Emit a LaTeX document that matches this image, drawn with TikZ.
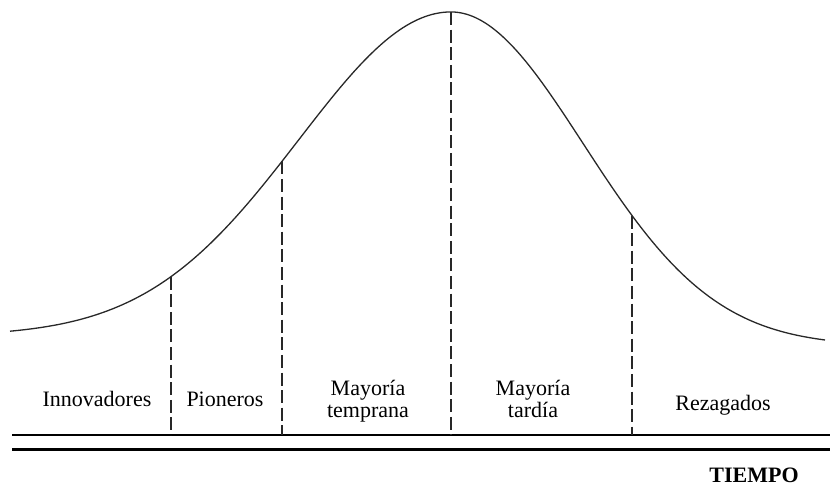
\documentclass[tikz,border=0pt]{standalone}
\usepackage{fontspec}
\setmainfont{Liberation Serif}
\usepackage{xcolor}
\usepackage{tikz}
\usetikzlibrary{positioning, calc}
\definecolor{mydark}{RGB}{40,40,40}
\tikzset{
  bell/.style={line width=0.65pt, color=mydark},
  divline/.style={line width=0.6pt, color=mydark, dash pattern=on 6.5pt off 2.3pt},
  thinaxis/.style={line width=0.6pt, color=black},
  thickaxis/.style={line width=1.5pt, color=black},
  group/.style={font=\fontsize{11}{11}\selectfont, align=center, inner sep=0pt, anchor=base},
  axislabel/.style={font=\fontsize{11}{13}\selectfont\bfseries, inner sep=0pt, anchor=base}
}

\begin{document}
\begin{tikzpicture}[x=0.5pt, y=-0.5pt,
  declare function={
    lcurve(\t)=336-324*exp(-0.5*((\t-451)/152)^2);
    rcurve(\t)=346-334*exp(-0.5*((\t-451)/132)^2);
  }]
  \useasboundingbox (0,0) rectangle (833,486);

  % bell curve
  \draw[bell] plot[domain=10:451, samples=120] (\x,{lcurve(\x)})
              -- plot[domain=451:825, samples=120] (\x,{rcurve(\x)});

  % time axis
  \coordinate (axl) at (12,435);
  \coordinate (axr) at (830,435);
  \draw[thinaxis] (axl) -- (axr);
  \draw[thickaxis] ($(axl)+(0,14)$) -- ($(axr)+(0,14)$);

  % dividers
  \coordinate (d1) at (171,{lcurve(171)});
  \coordinate (d2) at (282,{lcurve(282)});
  \coordinate (d3) at (451,{lcurve(451)});
  \coordinate (d4) at (632,{rcurve(632)});
  \draw[divline] (d1) -- (d1 |- axl);
  \draw[divline] (d2) -- (d2 |- axl);
  \draw[divline] (d3) -- (d3 |- axl);
  \draw[divline] (d4) -- (d4 |- axl);

  % groups
  \node[group] (inno) at (97,406) {Innovadores};
  \node[group] (pion) at (225,406) {Pioneros};
  \node[group] (mtem) at (368,417) {Mayoría\\temprana};
  \node[group] (mtar) at (533,417) {Mayoría\\tardía};
  \node[group] (reza) at (723,410) {Rezagados};
  \node[axislabel] (time) at (754,482) {TIEMPO};
\end{tikzpicture}
\end{document}
